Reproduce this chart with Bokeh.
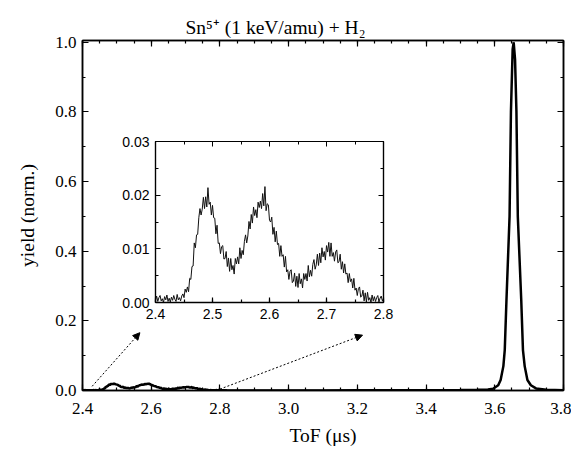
import numpy as np
from bokeh.plotting import figure
from bokeh.models import (Range1d, LinearAxis, FixedTicker, PrintfTickFormatter,
                          Arrow, NormalHead)
from bokeh.embed import file_html
from bokeh.resources import INLINE

# ---------------- data ----------------
# fine-sampled ToF spectrum in the 2.40-2.80 us window (2 ns step)
tof_fine = np.round(np.linspace(2.4, 2.8, 201), 3)
# yield in units of 1e-4 (normalised)
yield_fine_e4 = [
    4, 12, 2, 9, 13, 3, 7, 0, 11, 5, 14, 2, 8, 1, 10, 4, 13, 6, 2, 15, 5, 9, 3, 12,
    16, 9, 25, 19, 29, 20, 45, 43, 67, 68, 111, 102, 126, 127, 158, 175, 163, 174, 196, 175,
    197, 178, 214, 183, 187, 163, 181, 158, 157, 128, 144, 110, 111, 91, 104, 106, 81, 82, 95, 67,
    83, 58, 82, 61, 69, 53, 82, 72, 85, 72, 102, 82, 97, 89, 114, 126, 111, 124, 151, 137,
    164, 148, 178, 162, 173, 158, 187, 177, 189, 175, 203, 180, 216, 171, 184, 182, 153, 150, 159, 127,
    140, 113, 133, 108, 110, 86, 106, 86, 89, 66, 86, 57, 61, 43, 58, 61, 37, 40, 55, 30,
    49, 28, 54, 35, 44, 27, 54, 43, 54, 40, 69, 48, 60, 49, 71, 80, 62, 70, 90, 69,
    92, 74, 102, 85, 95, 79, 106, 94, 112, 86, 111, 86, 93, 77, 94, 98, 74, 76, 90, 62,
    76, 55, 72, 53, 55, 37, 54, 39, 44, 27, 45, 23, 27, 13, 26, 29, 10, 12, 23, 3,
    18, 1, 19, 4, 9, 0, 14, 3, 11, 2, 9, 13, 1, 8, 12, 3, 7,
]
yield_fine = [v * 1e-4 for v in yield_fine_e4]

# main Sn5+ peak region (beyond 2.8 us)
tof_peak = [2.82, 2.9, 3.0, 3.1, 3.2, 3.3, 3.4, 3.5, 3.55, 3.58, 3.595, 3.61, 3.617,
            3.625, 3.629, 3.634, 3.643, 3.647, 3.652, 3.655, 3.659, 3.663, 3.667,
            3.677, 3.682, 3.687, 3.695, 3.705, 3.72, 3.75, 3.8]
yield_peak = [0.0004, 0.0003, 0.0003, 0.0003, 0.0004, 0.0005, 0.0006, 0.0012, 0.002,
              0.003, 0.005, 0.015, 0.03, 0.07, 0.116, 0.26, 0.5, 0.8, 0.98, 1.0, 0.95,
              0.8, 0.5, 0.26, 0.116, 0.07, 0.03, 0.015, 0.006, 0.002, 0.001]

main_x_ticks = [2.4, 2.6, 2.8, 3.0, 3.2, 3.4, 3.6, 3.8]
main_y_ticks = [0.0, 0.2, 0.4, 0.6, 0.8, 1.0]
inset_x_ticks = [2.4, 2.5, 2.6, 2.7, 2.8]
inset_y_ticks = [0.0, 0.01, 0.02, 0.03]

# zoom arrows: (x_start, y_start, x_end, y_end)
arrow_left = (2.428, 0.012, 2.567, 0.166)
arrow_right = (2.8, 0.004, 3.215, 0.159)

TITLE = "Sn\u2075\u207a (1 keV/amu) + H\u2082"
SERIF = "Liberation Serif"
SANS = "Liberation Sans"

# ---------------- main figure ----------------
all_x = list(tof_fine) + tof_peak
all_y = yield_fine + yield_peak

p = figure(frame_width=481, frame_height=350,
           x_range=Range1d(2.4, 3.8), y_range=Range1d(0, 1.005),
           output_backend="svg", toolbar_location=None,
           min_border_left=82, min_border_right=8, min_border_top=40, min_border_bottom=54)
p.line(all_x, all_y, line_color="black", line_width=2.5)

p.xgrid.visible = False
p.ygrid.visible = False
p.outline_line_color = "black"
p.outline_line_width = 1.5

p.title.text = TITLE
p.title.text_font = SERIF
p.title.text_font_size = "19.5px"
p.title.text_font_style = "normal"
p.title.text_color = "black"
p.title.align = "left"
p.title.offset = 103
p.title.standoff = 5


def style_axis(ax, ticks, minor, fmt, font, size, show_labels=True,
               tick_in=6, minor_in=3, standoff=8):
    ax.ticker = FixedTicker(ticks=ticks, minor_ticks=minor)
    ax.formatter = PrintfTickFormatter(format=fmt)
    ax.major_tick_in = tick_in
    ax.major_tick_out = 0
    ax.minor_tick_in = minor_in
    ax.minor_tick_out = 0
    ax.axis_line_color = "black"
    ax.axis_line_width = 1.5
    ax.major_tick_line_color = "black"
    ax.major_tick_line_width = 1.2
    ax.minor_tick_line_color = "black"
    ax.minor_tick_line_width = 1.2
    ax.major_label_text_font = font
    if show_labels:
        ax.major_label_text_color = "black"
        ax.major_label_text_font_size = size
        ax.major_label_standoff = standoff
    else:
        ax.major_label_text_color = None
        ax.major_label_text_font_size = "0px"
        ax.major_label_standoff = 0
        ax.axis_label = None


main_x_minor = [round(2.4 + 0.05 * k, 2) for k in range(29)]
main_y_minor = [round(0.1 * k, 1) for k in range(11)]

style_axis(p.xaxis[0], main_x_ticks, main_x_minor, "%.1f", SERIF, "17px", standoff=12)
style_axis(p.yaxis[0], main_y_ticks, main_y_minor, "%.1f", SERIF, "17px", standoff=6)
p.xaxis[0].axis_label = "ToF (μs)"
p.yaxis[0].axis_label = "yield (norm.)"
for ax in (p.xaxis[0], p.yaxis[0]):
    ax.axis_label_text_font = SERIF
    ax.axis_label_text_font_size = "19.5px"
    ax.axis_label_text_font_style = "normal"
    ax.axis_label_text_color = "black"
p.xaxis[0].axis_label_standoff = 8
p.yaxis[0].axis_label_standoff = 14

top_ax = LinearAxis()
right_ax = LinearAxis()
style_axis(top_ax, main_x_ticks, main_x_minor, "%.1f", SERIF, "0px", show_labels=False)
style_axis(right_ax, main_y_ticks, main_y_minor, "%.1f", SERIF, "0px", show_labels=False)
p.add_layout(top_ax, "above")
p.add_layout(right_ax, "right")

for (xs, ys, xe, ye) in (arrow_left, arrow_right):
    p.add_layout(Arrow(end=NormalHead(size=7, fill_color="black", line_color="black"),
                       x_start=xs, y_start=ys, x_end=xe, y_end=ye,
                       line_color="black", line_width=1, line_dash="2 2"))

# ---------------- inset ----------------
inset = figure(frame_width=228, frame_height=161,
               x_range=Range1d(2.4, 2.8), y_range=Range1d(0, 0.03),
               output_backend="svg", toolbar_location=None,
               min_border_left=40, min_border_right=14, min_border_top=14, min_border_bottom=28)
inset.line(tof_fine, yield_fine, line_color="#111111", line_width=1)
inset.xgrid.visible = False
inset.ygrid.visible = False
inset.outline_line_color = "black"
inset.outline_line_width = 1.2
inset.border_fill_alpha = 0

in_x_minor = [round(2.4 + 0.05 * k, 2) for k in range(9)]
in_y_minor = [round(0.005 * k, 3) for k in range(7)]
style_axis(inset.xaxis[0], inset_x_ticks, in_x_minor, "%.1f", SANS, "14px",
           tick_in=5, minor_in=3, standoff=6)
style_axis(inset.yaxis[0], inset_y_ticks, in_y_minor, "%.2f", SANS, "14px",
           tick_in=5, minor_in=3, standoff=6)
in_top = LinearAxis()
in_right = LinearAxis()
style_axis(in_top, inset_x_ticks, in_x_minor, "%.1f", SANS, "0px", show_labels=False,
           tick_in=5, minor_in=3)
style_axis(in_right, inset_y_ticks, in_y_minor, "%.2f", SANS, "0px", show_labels=False,
           tick_in=5, minor_in=3)
inset.add_layout(in_top, "above")
inset.add_layout(in_right, "right")
for ax in (inset.xaxis[0], inset.yaxis[0], in_top, in_right):
    ax.axis_line_width = 1.2
    ax.major_tick_line_width = 1
    ax.minor_tick_line_width = 1

inset.styles = {"position": "absolute", "left": "115px", "top": "127px", "z-index": "10"}

open("out.html", "w").write(file_html([p, inset], INLINE))
